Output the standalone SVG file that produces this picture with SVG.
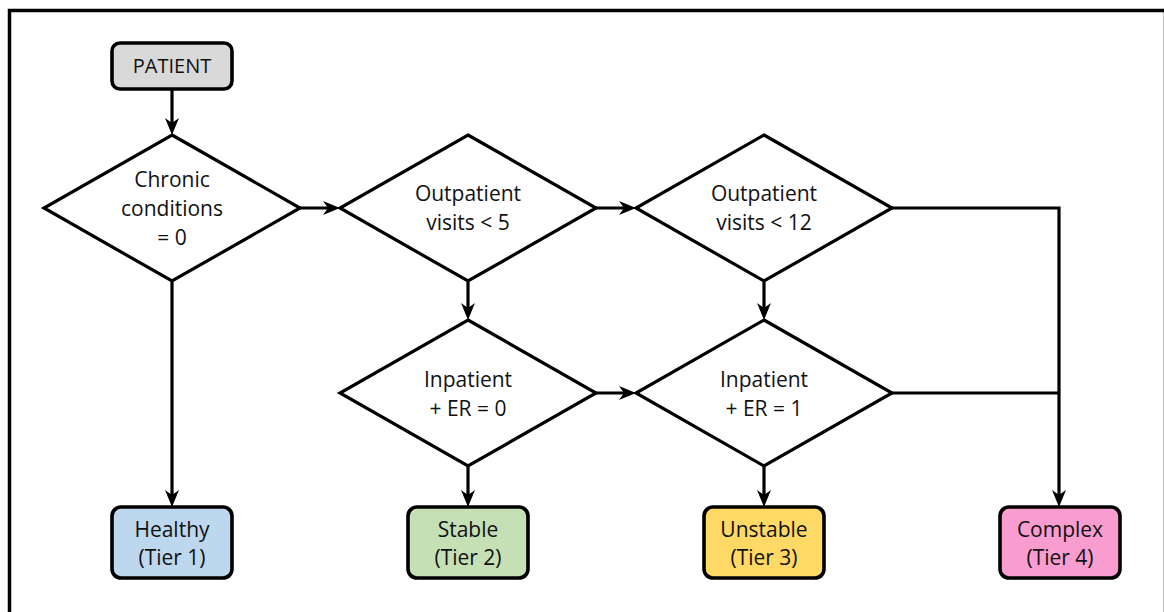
<svg xmlns="http://www.w3.org/2000/svg" width="1164" height="612" viewBox="0 0 1164 612">
  <style>
    .frame { fill: none; stroke: #000; stroke-width: 3.5; }
    .dia { fill: #fff; stroke: #000; stroke-width: 3.2; stroke-linejoin: miter; }
    .box { stroke: #000; stroke-width: 3.6; }
    .conn { fill: none; stroke: #000; stroke-width: 3.2; }
    text { font-family: "Open Sans", "Noto Sans", "Liberation Sans", sans-serif; font-size: 21px; fill: #111; text-anchor: middle; }
    .small { font-size: 20px; }
  </style>
  <defs>
    <marker id="arr" markerUnits="userSpaceOnUse" viewBox="0 0 17 15" markerWidth="17" markerHeight="15" refX="11" refY="7.5" orient="auto">
      <path d="M0,0.5 L17,7.5 L0,14.5 L5,7.5 Z" fill="#000"/>
    </marker>
  </defs>
  <rect width="1164" height="612" fill="#fff"/>
  <rect class="frame" x="9.5" y="10.5" width="1156" height="620"/>

  <g id="connectors">
    <line class="conn" x1="172" y1="89" x2="172" y2="129" marker-end="url(#arr)"/>
    <line class="conn" x1="300" y1="208" x2="334" y2="208" marker-end="url(#arr)"/>
    <line class="conn" x1="596" y1="208" x2="630" y2="208" marker-end="url(#arr)"/>
    <line class="conn" x1="596" y1="393" x2="630" y2="393" marker-end="url(#arr)"/>
    <line class="conn" x1="468" y1="281" x2="468" y2="314" marker-end="url(#arr)"/>
    <line class="conn" x1="764" y1="281" x2="764" y2="314" marker-end="url(#arr)"/>
    <line class="conn" x1="172" y1="281" x2="172" y2="501" marker-end="url(#arr)"/>
    <line class="conn" x1="468" y1="466" x2="468" y2="501" marker-end="url(#arr)"/>
    <line class="conn" x1="764" y1="466" x2="764" y2="501" marker-end="url(#arr)"/>
    <path class="conn" d="M892,208 H1059 V501" marker-end="url(#arr)"/>
    <path class="conn" d="M892,393 H1059"/>
  </g>

  <g id="patient">
    <rect class="box" x="112" y="43" width="120" height="46" rx="8" fill="#d9d9d9"/>
    <text class="small" x="172" y="73">PATIENT</text>
  </g>

  <g id="chronic">
    <polygon class="dia" points="172,135 300,208 172,281 44,208"/>
    <text x="172" y="187">Chronic</text>
    <text x="172" y="216">conditions</text>
    <text x="172" y="245">= 0</text>
  </g>

  <g id="outpatient5">
    <polygon class="dia" points="468,135 596,208 468,281 340,208"/>
    <text x="468" y="201">Outpatient</text>
    <text x="468" y="230">visits &lt; 5</text>
  </g>

  <g id="outpatient12">
    <polygon class="dia" points="764,135 892,208 764,281 636,208"/>
    <text x="764" y="201">Outpatient</text>
    <text x="764" y="230">visits &lt; 12</text>
  </g>

  <g id="inpatient0">
    <polygon class="dia" points="468,320 596,393 468,466 340,393"/>
    <text x="468" y="387">Inpatient</text>
    <text x="468" y="416">+ ER = 0</text>
  </g>

  <g id="inpatient1">
    <polygon class="dia" points="764,320 892,393 764,466 636,393"/>
    <text x="764" y="387">Inpatient</text>
    <text x="764" y="416">+ ER = 1</text>
  </g>

  <g id="healthy">
    <rect class="box" x="112" y="507" width="120" height="71" rx="9" fill="#bdd7ee"/>
    <text x="172" y="537">Healthy</text>
    <text x="172" y="565">(Tier 1)</text>
  </g>

  <g id="stable">
    <rect class="box" x="408" y="507" width="120" height="71" rx="9" fill="#c5e0b4"/>
    <text x="468" y="537">Stable</text>
    <text x="468" y="565">(Tier 2)</text>
  </g>

  <g id="unstable">
    <rect class="box" x="704" y="507" width="120" height="71" rx="9" fill="#ffd966"/>
    <text x="764" y="537">Unstable</text>
    <text x="764" y="565">(Tier 3)</text>
  </g>

  <g id="complex">
    <rect class="box" x="1000" y="507" width="120" height="71" rx="9" fill="#f99ccf"/>
    <text x="1060" y="537">Complex</text>
    <text x="1060" y="565">(Tier 4)</text>
  </g>
</svg>
